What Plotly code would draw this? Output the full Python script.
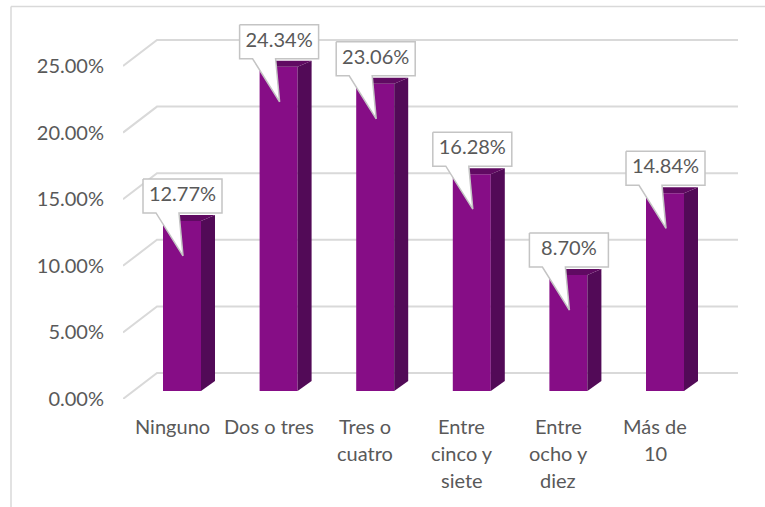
import plotly.graph_objects as go

categories = ["Ninguno", "Dos o tres", "Tres o<br>cuatro", "Entre<br>cinco y<br>siete", "Entre<br>ocho y<br>diez", "Más de<br>10"]
values = [12.77, 24.34, 23.06, 16.28, 8.70, 14.84]
value_labels = ["12.77%", "24.34%", "23.06%", "16.28%", "8.70%", "14.84%"]
tick_vals = [0, 5, 10, 15, 20, 25]
tick_text = ["0.00%", "5.00%", "10.00%", "15.00%", "20.00%", "25.00%"]

W, H = 765, 507
L, R, T, B = 123, 738, 20, 399
PX_X = 96.6
PX_Y = 13.32
x_min = -49 / PX_X
x_max = (R - 172) / PX_X
y_max = (B - T) / PX_Y

FONT = "Lato, Carlito, Calibri, sans-serif"
TXT = "#595959"
GRID = "#d9d9d9"
FRONT = "#860d86"
TOP = "#600a62"
SIDE = "#520a57"

dx = lambda p: p / PX_X
dy = lambda p: p / PX_Y
bar_shift = dx(10)
bar_w = dx(38)
base = dy(8)

fig = go.Figure()

fig.add_trace(go.Bar(
    x=[i + bar_shift for i in range(len(values))], y=values, base=base, width=bar_w,
    marker=dict(color=FRONT, line=dict(width=0)), hoverinfo="skip", showlegend=False))

for i, v in enumerate(values):
    xl = i + bar_shift - bar_w / 2
    xr = i + bar_shift + bar_w / 2
    top = v + base
    ox, oy = dx(14), dy(10)
    oy_top = dy(6)
    fig.add_trace(go.Scatter(
        x=[xr, xr + ox, xr + ox, xr], y=[base, base + oy, top + oy_top, top],
        mode="lines", fill="toself", fillcolor=SIDE, line=dict(width=0),
        hoverinfo="skip", showlegend=False))
    fig.add_trace(go.Scatter(
        x=[xl, xl + ox, xr + ox, xr], y=[top, top + oy_top, top + oy_top, top],
        mode="lines", fill="toself", fillcolor=TOP, line=dict(width=0),
        hoverinfo="skip", showlegend=False))
    # callout
    bl, br = xl - dx(20), xl + dx(59)
    bt, bb = top + dy(42), top + dy(8)
    fig.add_trace(go.Scatter(
        x=[bl, br, br, xl + dx(16), xl + dx(20), xl - dx(7), bl, bl],
        y=[bt, bt, bb, bb, top - dy(35), bb, bb, bt],
        mode="lines", fill="toself", fillcolor="white",
        line=dict(color="#c4c4c4", width=1.5), cliponaxis=False,
        hoverinfo="skip", showlegend=False))
    fig.add_trace(go.Scatter(
        x=[(bl + br) / 2], y=[(bt + bb) / 2], mode="text", text=[value_labels[i]],
        textposition="middle center", textfont=dict(family=FONT, size=20, color=TXT),
        cliponaxis=False, hoverinfo="skip", showlegend=False))

shapes = []
for t in tick_vals:
    shapes.append(dict(
        type="path", xref="x", yref="y", layer="below",
        path=f"M {x_min} {t} L {x_min + dx(34)} {t + dy(26)} L {x_max} {t + dy(26)}",
        line=dict(color=GRID, width=2)))
shapes.append(dict(type="line", xref="paper", yref="paper",
                   x0=(11 - L) / (R - L), x1=(W - L) / (R - L),
                   y0=(B - 6.5) / (B - T), y1=(B - 6.5) / (B - T),
                   line=dict(color=GRID, width=1.5)))
shapes.append(dict(type="line", xref="paper", yref="paper",
                   x0=(11 - L) / (R - L), x1=(11 - L) / (R - L),
                   y0=(B - H) / (B - T), y1=(B - 6.5) / (B - T),
                   line=dict(color=GRID, width=1.5)))

annotations = []
for i, c in enumerate(categories):
    for j, line in enumerate(c.split("<br>")):
        annotations.append(dict(
            x=i, y=0, xref="x", yref="y", text=line, showarrow=False,
            xanchor="center", yanchor="middle", yshift=-(27 + 27 * j),
            font=dict(family=FONT, size=20, color=TXT)))

fig.update_layout(
    width=W, height=H, margin=dict(l=L, r=W - R, t=T, b=H - B),
    paper_bgcolor="white", plot_bgcolor="white", showlegend=False,
    shapes=shapes, annotations=annotations,
    xaxis=dict(range=[x_min, x_max], showgrid=False, zeroline=False, showticklabels=False,
               showline=False, ticks=""),
    yaxis=dict(range=[0, y_max], tickvals=tick_vals, ticktext=tick_text, showgrid=False,
               zeroline=False, showline=False, ticks="", ticklabelstandoff=18,
               tickfont=dict(family=FONT, size=20, color=TXT)),
)

fig.write_html("out.html", config=dict(displayModeBar=False),
               post_script="document.body.style.margin='0';document.body.style.overflow='hidden';")
